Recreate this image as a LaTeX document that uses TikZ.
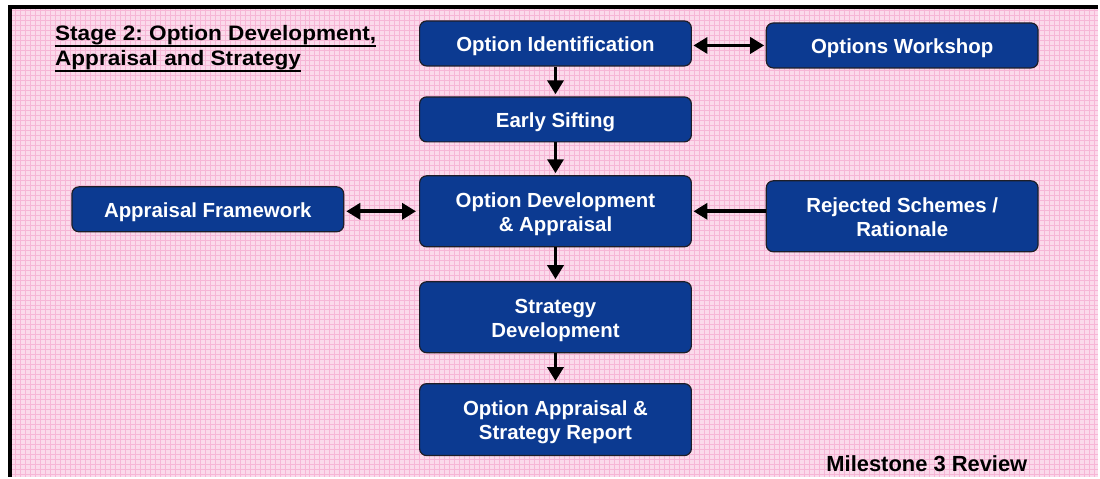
\documentclass[tikz,border=0pt]{standalone}
\usepackage{fontspec}
\setmainfont{Liberation Sans}
\usetikzlibrary{arrows.meta}
\frenchspacing
\definecolor{boxblue}{RGB}{12,58,145}
\definecolor{boxedge}{RGB}{30,30,40}
\definecolor{paper}{RGB}{251,218,235}
\definecolor{gridpink}{RGB}{246,182,214}
% thick underline drawn under a piece of text
\newcommand\ulbar[1]{\setbox0\hbox{#1}\rlap{\rule[-6.2pt]{\wd0}{2.4pt}}\box0}
% two centred lines, baseline on the last line
\newcommand\twolines[2]{\begin{tabular}[b]{@{}c@{}}#1\\#2\end{tabular}}
\begin{document}
\begin{tikzpicture}[x=1bp,y=-1bp,
  stagebox/.style={draw=boxedge, line width=1.2bp, fill=boxblue,
    rounded corners=7bp, text=white,
    font=\bfseries\fontsize{20.5}{24}\selectfont,
    minimum width=272bp, inner sep=0pt},
  oneline/.style={stagebox, minimum height=45bp, text height=16.4bp, text depth=0pt},
  twoline/.style={stagebox, minimum height=71bp, text height=40bp, text depth=0pt},
  tip/.tip={Triangle[length=14bp,width=16bp]},
  link/.style={line width=3.8bp, -tip},
  biarrow/.style={line width=3.8bp, tip-tip},
  heading/.style={anchor=base west, inner sep=0pt,
    font=\bfseries\fontsize{21}{25}\selectfont}]
  % page and graph-paper background
  \fill[white] (0,0) rectangle (1100,477);
  \fill[paper] (10,7) rectangle (1099,477);
  \draw[gridpink, line width=0.45bp, step=5bp] (12,9) grid (1099,477);
  \draw[line width=4bp] (10,477) -- (10,7) -- (1099,7);

  % heading
  \node[heading] (title1) at (55,41) {\scalebox{1.08}[1]{\ulbar{Stage 2: Option Development,}}};
  \node[heading] (title2) at (55,66) {\scalebox{1.08}[1]{\ulbar{Appraisal and Strategy}}};

  % process boxes
  \node[oneline] (ident) at (556,43.5) {Option Identification};
  \node[oneline] (workshop) at (903,45.5) {Options Workshop};
  \node[oneline] (sift) at (556,119.5) {Early Sifting};
  \node[twoline] (develop) at (556,211.5) {\twolines{Option Development}{\& Appraisal}};
  \node[oneline] (framework) at (208,209.5) {Appraisal Framework};
  \node[twoline] (rejected) at (903,216.5) {\twolines{Rejected Schemes /}{Rationale}};
  \node[twoline] (strategy) at (556,317.5) {\twolines{Strategy}{Development}};
  \node[twoline, minimum height=72bp] (report) at (556,420) {\twolines{Option Appraisal \&}{Strategy Report}};

  % milestone label
  \node[heading, font=\bfseries\fontsize{22}{25}\selectfont] (milestone) at (827,472) {Milestone 3 Review};

  % connectors
  \draw[biarrow, shorten <=1.5bp, shorten >=1.5bp] (ident.east |- workshop.west) -- (workshop.west);
  \draw[link, shorten >=2bp] (ident) -- (sift);
  \draw[link, shorten >=2bp] (sift) -- (develop);
  \draw[biarrow, shorten <=2bp, shorten >=3bp] (framework.east |- develop.west) -- (develop.west);
  \draw[link, shorten >=1.5bp] (rejected.west |- develop.east) -- (develop.east);
  \draw[link, shorten >=2bp] (develop) -- (strategy);
  \draw[link, shorten >=2bp] (strategy) -- (report);
\end{tikzpicture}
\end{document}
